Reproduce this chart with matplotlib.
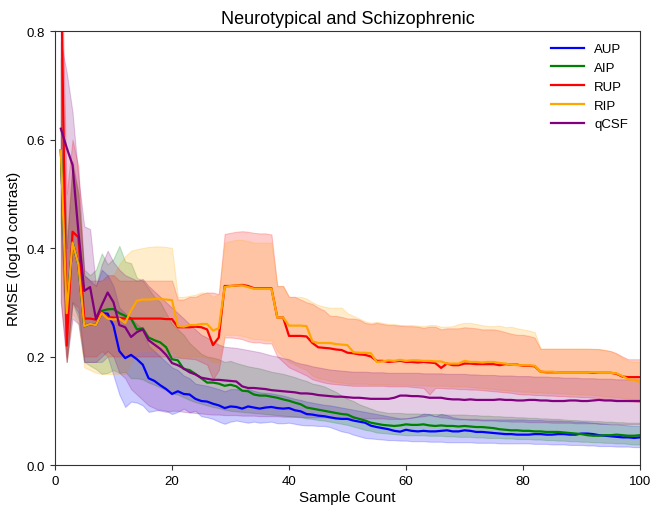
import matplotlib
matplotlib.use("Agg")
import matplotlib.pyplot as plt
import numpy as np

plt.rcParams['font.family'] = ['Liberation Sans', 'DejaVu Sans']

sample_count = list(range(1, 101))

aup_mean = [0.58, 0.28, 0.41, 0.37, 0.256, 0.26, 0.258, 0.28, 0.279, 0.257,
            0.21, 0.197, 0.203, 0.195, 0.185, 0.16, 0.155, 0.147, 0.14, 0.131,
            0.136, 0.131, 0.13, 0.122, 0.118, 0.117, 0.113, 0.11, 0.105, 0.108,
            0.107, 0.104, 0.108, 0.106, 0.104, 0.106, 0.107, 0.105, 0.104, 0.105,
            0.101, 0.099, 0.094, 0.093, 0.091, 0.09, 0.088, 0.086, 0.085, 0.085,
            0.082, 0.08, 0.078, 0.0725, 0.07, 0.068, 0.066, 0.063, 0.0615, 0.065,
            0.063, 0.062, 0.063, 0.062, 0.062, 0.063, 0.064, 0.062, 0.062, 0.064,
            0.063, 0.061, 0.061, 0.06, 0.059, 0.058, 0.057, 0.057, 0.056, 0.056,
            0.056, 0.057, 0.057, 0.056, 0.056, 0.057, 0.057, 0.056, 0.056, 0.058,
            0.058, 0.057, 0.055, 0.054, 0.053, 0.052, 0.051, 0.051, 0.05, 0.051]
aup_lo = [0.45, 0.2, 0.3, 0.28, 0.19, 0.19, 0.19, 0.19, 0.2, 0.165,
          0.13, 0.107, 0.117, 0.115, 0.11, 0.098, 0.1, 0.102, 0.1, 0.094,
          0.098, 0.104, 0.097, 0.1, 0.09, 0.088, 0.085, 0.08, 0.076, 0.08,
          0.082, 0.08, 0.078, 0.08, 0.078, 0.079, 0.08, 0.077, 0.077, 0.078,
          0.076, 0.074, 0.073, 0.073, 0.072, 0.072, 0.07, 0.066, 0.062, 0.06,
          0.056, 0.053, 0.05, 0.049, 0.048, 0.047, 0.046, 0.046, 0.045, 0.045,
          0.044, 0.044, 0.044, 0.043, 0.043, 0.043, 0.042, 0.042, 0.042, 0.042,
          0.042, 0.041, 0.041, 0.041, 0.041, 0.04, 0.04, 0.04, 0.04, 0.04,
          0.04, 0.039, 0.039, 0.039, 0.038, 0.038, 0.038, 0.037, 0.037, 0.037,
          0.036, 0.036, 0.035, 0.035, 0.035, 0.034, 0.034, 0.034, 0.033, 0.033]
aup_hi = [0.8, 0.4, 0.55, 0.5, 0.35, 0.34, 0.33, 0.36, 0.35, 0.33,
          0.29, 0.28, 0.27, 0.26, 0.25, 0.22, 0.21, 0.2, 0.19, 0.18,
          0.175, 0.165, 0.16, 0.15, 0.148, 0.146, 0.143, 0.14, 0.136, 0.14,
          0.14, 0.138, 0.14, 0.137, 0.134, 0.133, 0.132, 0.13, 0.128, 0.125,
          0.122, 0.12, 0.117, 0.115, 0.113, 0.111, 0.11, 0.108, 0.106, 0.104,
          0.102, 0.1, 0.098, 0.096, 0.094, 0.092, 0.09, 0.088, 0.086, 0.086,
          0.088, 0.09, 0.095, 0.094, 0.09, 0.094, 0.092, 0.088, 0.086, 0.085,
          0.085, 0.085, 0.084, 0.084, 0.084, 0.084, 0.084, 0.084, 0.084, 0.084,
          0.083, 0.083, 0.083, 0.082, 0.082, 0.082, 0.081, 0.081, 0.08, 0.08,
          0.079, 0.078, 0.077, 0.076, 0.075, 0.075, 0.074, 0.073, 0.072, 0.072]

aip_mean = [0.58, 0.28, 0.41, 0.37, 0.256, 0.26, 0.258, 0.284, 0.287, 0.2875,
            0.28, 0.275, 0.27, 0.25, 0.252, 0.235, 0.23, 0.226, 0.217, 0.195,
            0.193, 0.177, 0.175, 0.168, 0.16, 0.152, 0.152, 0.15, 0.146, 0.148,
            0.145, 0.137, 0.136, 0.13, 0.128, 0.128, 0.126, 0.124, 0.121, 0.1185,
            0.115, 0.112, 0.106, 0.104, 0.102, 0.1, 0.098, 0.096, 0.094, 0.093,
            0.088, 0.085, 0.082, 0.078, 0.076, 0.074, 0.073, 0.072, 0.073, 0.075,
            0.074, 0.074, 0.075, 0.073, 0.072, 0.073, 0.072, 0.072, 0.071, 0.072,
            0.071, 0.07, 0.07, 0.069, 0.068, 0.066, 0.065, 0.064, 0.064, 0.063,
            0.063, 0.062, 0.062, 0.061, 0.061, 0.061, 0.06, 0.059, 0.058, 0.057,
            0.055, 0.054, 0.054, 0.055, 0.055, 0.056, 0.055, 0.054, 0.054, 0.055]
aip_lo = [0.45, 0.19, 0.3, 0.27, 0.19, 0.183, 0.177, 0.168, 0.17, 0.175,
          0.17, 0.172, 0.16, 0.16, 0.158, 0.152, 0.148, 0.143, 0.138, 0.132,
          0.13, 0.125, 0.12, 0.116, 0.113, 0.11, 0.107, 0.105, 0.102, 0.1,
          0.099, 0.098, 0.097, 0.096, 0.095, 0.094, 0.093, 0.092, 0.091, 0.09,
          0.089, 0.088, 0.086, 0.085, 0.083, 0.082, 0.08, 0.078, 0.076, 0.074,
          0.071, 0.068, 0.065, 0.063, 0.06, 0.059, 0.058, 0.057, 0.056, 0.055,
          0.055, 0.055, 0.055, 0.054, 0.054, 0.054, 0.053, 0.053, 0.052, 0.052,
          0.052, 0.051, 0.051, 0.05, 0.05, 0.05, 0.049, 0.049, 0.048, 0.048,
          0.048, 0.047, 0.047, 0.046, 0.046, 0.045, 0.045, 0.044, 0.044, 0.043,
          0.043, 0.042, 0.042, 0.041, 0.041, 0.04, 0.04, 0.039, 0.038, 0.038]
aip_hi = [0.75, 0.4, 0.56, 0.5, 0.36, 0.35, 0.36, 0.39, 0.37, 0.38,
          0.404, 0.375, 0.372, 0.345, 0.34, 0.325, 0.31, 0.3, 0.28, 0.26,
          0.25, 0.24, 0.225, 0.215, 0.205, 0.2, 0.198, 0.195, 0.19, 0.192,
          0.188, 0.185, 0.182, 0.18, 0.178, 0.175, 0.172, 0.17, 0.168, 0.165,
          0.162, 0.158, 0.155, 0.15, 0.148, 0.145, 0.14, 0.135, 0.128, 0.122,
          0.118, 0.112, 0.108, 0.104, 0.1, 0.098, 0.096, 0.096, 0.096, 0.095,
          0.095, 0.095, 0.094, 0.094, 0.094, 0.094, 0.093, 0.093, 0.093, 0.093,
          0.092, 0.092, 0.091, 0.091, 0.09, 0.09, 0.089, 0.089, 0.088, 0.088,
          0.087, 0.087, 0.086, 0.086, 0.085, 0.085, 0.084, 0.083, 0.083, 0.082,
          0.082, 0.081, 0.081, 0.08, 0.08, 0.079, 0.079, 0.078, 0.078, 0.078]

rup_mean = [0.95, 0.22, 0.43, 0.42, 0.27, 0.27, 0.268, 0.282, 0.272, 0.272,
            0.271, 0.27, 0.27, 0.27, 0.27, 0.27, 0.27, 0.27, 0.269, 0.269,
            0.254, 0.254, 0.254, 0.255, 0.254, 0.25, 0.221, 0.235, 0.33, 0.33,
            0.331, 0.332, 0.33, 0.326, 0.326, 0.326, 0.326, 0.272, 0.272, 0.238,
            0.238, 0.238, 0.237, 0.225, 0.217, 0.216, 0.215, 0.213, 0.212, 0.207,
            0.206, 0.204, 0.203, 0.2, 0.192, 0.192, 0.19, 0.191, 0.192, 0.19,
            0.19, 0.189, 0.19, 0.189, 0.188, 0.179, 0.187, 0.184, 0.184, 0.187,
            0.187, 0.186, 0.186, 0.186, 0.186, 0.184, 0.186, 0.185, 0.185, 0.183,
            0.183, 0.182, 0.172, 0.171, 0.171, 0.171, 0.171, 0.171, 0.171, 0.171,
            0.171, 0.17, 0.17, 0.17, 0.17, 0.168, 0.163, 0.162, 0.162, 0.162]
rup_lo = [0.3, 0.19, 0.3, 0.29, 0.2, 0.2, 0.2, 0.21, 0.2, 0.2,
          0.2, 0.2, 0.2, 0.2, 0.2, 0.2, 0.2, 0.2, 0.2, 0.2,
          0.198, 0.197, 0.196, 0.195, 0.19, 0.185, 0.158, 0.175, 0.235, 0.235,
          0.234, 0.232, 0.228, 0.226, 0.226, 0.224, 0.224, 0.2, 0.19, 0.18,
          0.175, 0.17, 0.165, 0.158, 0.155, 0.152, 0.15, 0.149, 0.148, 0.147,
          0.146, 0.146, 0.146, 0.146, 0.146, 0.146, 0.145, 0.145, 0.145, 0.145,
          0.144, 0.143, 0.142, 0.13, 0.142, 0.142, 0.141, 0.141, 0.14, 0.14,
          0.139, 0.139, 0.138, 0.137, 0.136, 0.135, 0.134, 0.133, 0.131, 0.13,
          0.13, 0.129, 0.129, 0.128, 0.128, 0.127, 0.127, 0.126, 0.126, 0.125,
          0.125, 0.124, 0.123, 0.122, 0.121, 0.12, 0.119, 0.118, 0.117, 0.116]
rup_hi = [1.0, 0.5, 0.6, 0.55, 0.35, 0.34, 0.34, 0.34, 0.35, 0.35,
          0.34, 0.34, 0.34, 0.34, 0.34, 0.34, 0.34, 0.34, 0.34, 0.34,
          0.305, 0.305, 0.31, 0.31, 0.315, 0.318, 0.318, 0.315, 0.426, 0.428,
          0.43, 0.431, 0.43, 0.428, 0.427, 0.427, 0.425, 0.33, 0.33, 0.31,
          0.31, 0.305, 0.3, 0.297, 0.29, 0.285, 0.275, 0.275, 0.273, 0.27,
          0.27, 0.268, 0.262, 0.26, 0.262, 0.26, 0.258, 0.258, 0.257, 0.256,
          0.256, 0.255, 0.253, 0.255, 0.255, 0.25, 0.252, 0.252, 0.252, 0.254,
          0.253, 0.252, 0.25, 0.25, 0.25, 0.248, 0.245, 0.242, 0.24, 0.24,
          0.238, 0.235, 0.214, 0.214, 0.214, 0.214, 0.214, 0.214, 0.214, 0.214,
          0.214, 0.214, 0.214, 0.212, 0.21, 0.206, 0.2, 0.195, 0.195, 0.195]

rip_mean = [0.58, 0.28, 0.41, 0.37, 0.256, 0.26, 0.258, 0.28, 0.27, 0.268,
            0.27, 0.262, 0.285, 0.303, 0.305, 0.305, 0.306, 0.306, 0.305, 0.304,
            0.256, 0.255, 0.258, 0.258, 0.26, 0.26, 0.248, 0.252, 0.328, 0.33,
            0.331, 0.331, 0.328, 0.325, 0.325, 0.325, 0.325, 0.272, 0.272, 0.257,
            0.257, 0.257, 0.256, 0.228, 0.225, 0.225, 0.225, 0.223, 0.222, 0.221,
            0.208, 0.207, 0.207, 0.206, 0.19, 0.191, 0.193, 0.192, 0.194, 0.192,
            0.193, 0.193, 0.192, 0.192, 0.191, 0.191, 0.187, 0.187, 0.187, 0.192,
            0.19, 0.19, 0.189, 0.19, 0.19, 0.188, 0.187, 0.185, 0.184, 0.184,
            0.184, 0.183, 0.172, 0.172, 0.172, 0.171, 0.171, 0.171, 0.171, 0.171,
            0.171, 0.171, 0.17, 0.17, 0.17, 0.169, 0.164, 0.158, 0.157, 0.153]
rip_lo = [0.4, 0.19, 0.28, 0.26, 0.18, 0.175, 0.17, 0.168, 0.168, 0.168,
          0.168, 0.168, 0.19, 0.21, 0.21, 0.21, 0.212, 0.212, 0.212, 0.21,
          0.2, 0.2, 0.2, 0.2, 0.2, 0.198, 0.19, 0.19, 0.24, 0.24,
          0.24, 0.238, 0.235, 0.232, 0.232, 0.23, 0.23, 0.21, 0.2, 0.19,
          0.185, 0.18, 0.175, 0.165, 0.16, 0.158, 0.155, 0.153, 0.152, 0.15,
          0.15, 0.15, 0.15, 0.149, 0.149, 0.149, 0.148, 0.148, 0.148, 0.148,
          0.147, 0.147, 0.147, 0.146, 0.146, 0.146, 0.146, 0.145, 0.145, 0.145,
          0.144, 0.143, 0.142, 0.141, 0.14, 0.139, 0.138, 0.137, 0.136, 0.135,
          0.135, 0.134, 0.134, 0.133, 0.133, 0.132, 0.132, 0.131, 0.131, 0.13,
          0.13, 0.129, 0.128, 0.127, 0.126, 0.125, 0.124, 0.122, 0.121, 0.12]
rip_hi = [0.75, 0.42, 0.55, 0.5, 0.33, 0.33, 0.33, 0.34, 0.34, 0.35,
          0.37, 0.385, 0.395, 0.398, 0.4, 0.402, 0.403, 0.403, 0.402, 0.4,
          0.31, 0.31, 0.312, 0.314, 0.318, 0.318, 0.31, 0.315, 0.41, 0.413,
          0.415, 0.415, 0.413, 0.41, 0.41, 0.41, 0.41, 0.33, 0.33, 0.31,
          0.31, 0.31, 0.307, 0.3, 0.295, 0.292, 0.29, 0.29, 0.29, 0.28,
          0.275, 0.27, 0.265, 0.262, 0.264, 0.262, 0.26, 0.26, 0.258, 0.258,
          0.258, 0.257, 0.256, 0.258, 0.258, 0.255, 0.255, 0.256, 0.26, 0.262,
          0.262, 0.26, 0.258, 0.256, 0.256, 0.257, 0.254, 0.255, 0.252, 0.25,
          0.248, 0.245, 0.215, 0.215, 0.215, 0.215, 0.215, 0.215, 0.215, 0.215,
          0.215, 0.214, 0.213, 0.212, 0.21, 0.205, 0.198, 0.192, 0.19, 0.19]

qcsf_mean = [0.62, 0.585, 0.553, 0.43, 0.321, 0.328, 0.269, 0.295, 0.318, 0.30,
             0.258, 0.254, 0.236, 0.245, 0.25, 0.23, 0.222, 0.214, 0.203, 0.188,
             0.184, 0.178, 0.171, 0.167, 0.161, 0.159, 0.157, 0.157, 0.156, 0.155,
             0.154, 0.145, 0.142, 0.142, 0.141, 0.14, 0.138, 0.137, 0.136, 0.135,
             0.134, 0.132, 0.132, 0.131, 0.129, 0.128, 0.127, 0.126, 0.126, 0.125,
             0.124, 0.124, 0.123, 0.122, 0.122, 0.122, 0.122, 0.124, 0.128, 0.128,
             0.127, 0.127, 0.126, 0.124, 0.124, 0.124, 0.122, 0.121, 0.121, 0.12,
             0.121, 0.12, 0.12, 0.12, 0.12, 0.121, 0.12, 0.12, 0.119, 0.119,
             0.12, 0.12, 0.119, 0.119, 0.118, 0.118, 0.118, 0.119, 0.119, 0.118,
             0.118, 0.119, 0.12, 0.119, 0.119, 0.118, 0.118, 0.118, 0.118, 0.118]
qcsf_lo = [0.3, 0.19, 0.27, 0.26, 0.19, 0.19, 0.19, 0.2, 0.21, 0.2,
           0.17, 0.16, 0.14, 0.13, 0.12, 0.11, 0.105, 0.1, 0.098, 0.1,
           0.1, 0.098, 0.097, 0.096, 0.095, 0.094, 0.093, 0.093, 0.092, 0.092,
           0.092, 0.091, 0.091, 0.091, 0.09, 0.09, 0.09, 0.09, 0.089, 0.089,
           0.089, 0.089, 0.088, 0.088, 0.088, 0.088, 0.087, 0.087, 0.087, 0.087,
           0.086, 0.086, 0.086, 0.086, 0.086, 0.086, 0.085, 0.085, 0.085, 0.086,
           0.087, 0.089, 0.09, 0.092, 0.09, 0.088, 0.087, 0.085, 0.084, 0.084,
           0.083, 0.083, 0.082, 0.082, 0.082, 0.081, 0.081, 0.08, 0.08, 0.08,
           0.079, 0.079, 0.079, 0.079, 0.078, 0.078, 0.078, 0.078, 0.077, 0.077,
           0.077, 0.077, 0.076, 0.076, 0.076, 0.076, 0.075, 0.075, 0.075, 0.075]
qcsf_hi = [0.78, 0.724, 0.65, 0.53, 0.44, 0.435, 0.33, 0.37, 0.395, 0.374,
           0.36, 0.35, 0.345, 0.34, 0.343, 0.33, 0.32, 0.31, 0.3, 0.29,
           0.28, 0.27, 0.26, 0.25, 0.24, 0.235, 0.228, 0.222, 0.218, 0.217,
           0.216, 0.214, 0.212, 0.21, 0.208, 0.205, 0.202, 0.2, 0.197, 0.195,
           0.19, 0.187, 0.185, 0.182, 0.18, 0.178, 0.176, 0.175, 0.174, 0.173,
           0.172, 0.172, 0.172, 0.171, 0.171, 0.171, 0.17, 0.17, 0.17, 0.17,
           0.17, 0.17, 0.169, 0.169, 0.169, 0.169, 0.168, 0.168, 0.168, 0.168,
           0.167, 0.167, 0.166, 0.166, 0.166, 0.165, 0.165, 0.165, 0.164, 0.164,
           0.164, 0.163, 0.163, 0.163, 0.162, 0.162, 0.161, 0.161, 0.161, 0.16,
           0.16, 0.16, 0.159, 0.159, 0.159, 0.158, 0.158, 0.158, 0.158, 0.158]

method_names = ['AUP', 'AIP', 'RUP', 'RIP', 'qCSF']
method_colors = ['blue', 'green', 'red', 'orange', 'purple']
means = [aup_mean, aip_mean, rup_mean, rip_mean, qcsf_mean]
lows = [aup_lo, aip_lo, rup_lo, rip_lo, qcsf_lo]
highs = [aup_hi, aip_hi, rup_hi, rip_hi, qcsf_hi]

fig = plt.figure(figsize=(6.5, 5.06), dpi=100)
ax = fig.add_axes([0.0846, 0.079, 0.9, 0.8577])

x = np.array(sample_count)
for name, col, m, lo, hi in zip(method_names, method_colors, means, lows, highs):
    ax.fill_between(x, lo, hi, color=col, alpha=0.2, linewidth=0.8)
    ax.plot(x, m, color=col, linewidth=1.6, label=name)

ax.set_xlim(0, 100)
ax.set_ylim(0, 0.8)
ax.set_xticks([0, 20, 40, 60, 80, 100])
ax.set_yticks([0.0, 0.2, 0.4, 0.6, 0.8])
ax.tick_params(labelsize=9.5, length=3.5, width=0.8, colors='#333333', labelcolor='black')
for s in ax.spines.values():
    s.set_color('#333333')
ax.set_title('Neurotypical and Schizophrenic', fontsize=13)
ax.set_xlabel('Sample Count', fontsize=11, labelpad=2)
ax.set_ylabel('RMSE (log10 contrast)', fontsize=11, labelpad=4)
ax.legend(loc='upper right', frameon=False, fontsize=9.5, handlelength=2.5)

fig.savefig('out.png', dpi=100)
